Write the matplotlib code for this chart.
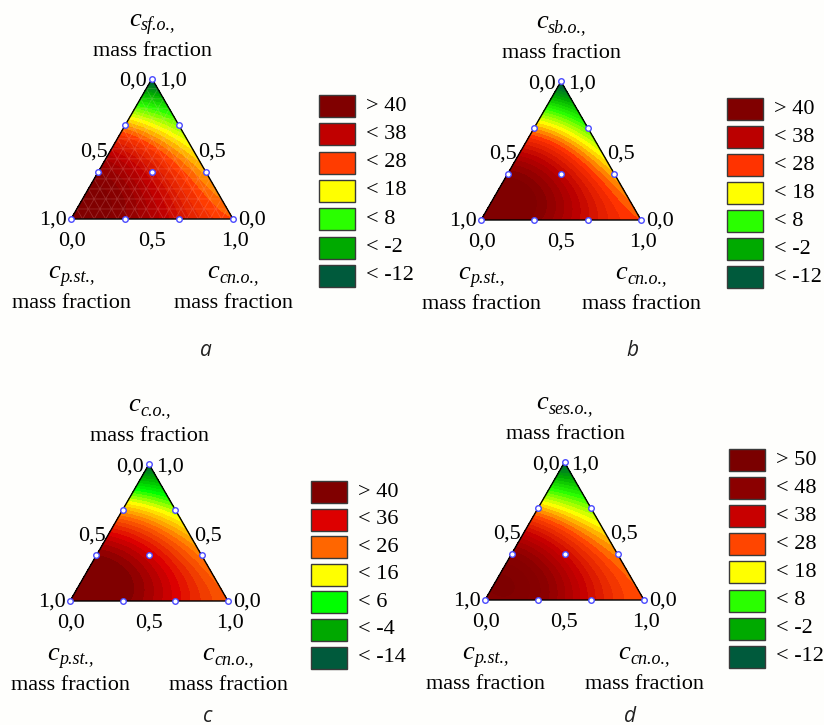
import numpy as np
import matplotlib
matplotlib.use("Agg")
import matplotlib.pyplot as plt
import matplotlib.tri as mtri
from matplotlib.colors import LinearSegmentedColormap, Normalize
from matplotlib.patches import Rectangle

plt.rcParams['font.family'] = ['Liberation Serif', 'DejaVu Serif']

# ---------------- data ----------------
# simplex-lattice design points (p.st., cn.o., third component)
design_p = [1, 0, 0, 2/3, 1/3, 2/3, 1/3, 0, 0, 1/3]
design_c = [0, 1, 0, 1/3, 2/3, 0, 0, 2/3, 1/3, 1/3]
design_s = [0, 0, 1, 0, 0, 1/3, 2/3, 1/3, 2/3, 1/3]

values_a = [42, 22, -20, 40, 30, 40, 18, 17, 7, 30]
values_b = [43, 22, -20, 41, 30, 41, 17, 16, 4, 32]
values_c = [42, 22, -20, 41, 31, 40, 16, 19, 7, 32]
values_d = [46, 22, -18, 44, 31, 43, 17, 19, 7, 32]

top_names = ['sf.o.,', 'sb.o.,', 'c.o.,', 'ses.o.,']
left_name = 'p.st.,'
right_name = 'cn.o.,'
panel_letters = ['a', 'b', 'c', 'd']

legend_a = ['> 40', '< 38', '< 28', '< 18', '< 8', '< -2', '< -12']
legend_b = ['> 40', '< 38', '< 28', '< 18', '< 8', '< -2', '< -12']
legend_c = ['> 40', '< 36', '< 26', '< 16', '< 6', '< -4', '< -14']
legend_d = ['> 50', '< 48', '< 38', '< 28', '< 18', '< 8', '< -2', '< -12']

colors_a = ['#800000', '#c00000', '#ff3c00', '#ffff00', '#2aff00', '#00aa00', '#005a3c']
colors_b = ['#800000', '#bb0000', '#ff3300', '#ffff00', '#2aff00', '#00aa00', '#005a3c']
colors_c = ['#800000', '#dd0000', '#ff6600', '#ffff00', '#00ff00', '#00a800', '#005a3c']
colors_d = ['#7a0000', '#8b0000', '#c80000', '#ff4500', '#ffff00', '#2aff00', '#00aa00', '#005a3c']

# colour anchor values (band centres) for the continuous fill
anchors_a = [42, 33, 23, 13, 3, -7, -17]
anchors_b = [42, 33, 23, 13, 3, -7, -17]
anchors_c = [41, 31, 21, 11, 1, -9, -19]
anchors_d = [51, 43, 33, 23, 13, 3, -7, -17]

# ---------------- layout (pixels) ----------------
W, H = 824, 725
tri_L = [(71, 219), (481, 220), (70, 601), (485, 600)]
tri_R = [233, 641, 228, 644]
leg_x = [319, 727, 311, 729]
leg_top = [95, 98, 481, 449]
leg_pitch = [28.3, 28.0, 27.6, 28.1]
letter_pos = [(206, 350), (632, 350), (208, 716), (630, 716)]

FS = 16
fig = plt.figure(figsize=(W / 100, H / 100), dpi=100)
fig.patch.set_facecolor('#fefefc')
over = fig.add_axes([0, 0, 1, 1])
over.set_xlim(0, W)
over.set_ylim(H, 0)
over.axis('off')
over.patch.set_visible(False)
renderer = fig.canvas.get_renderer()


def sub_label(xc, ybase, sub):
    t1 = over.text(0, 0, 'c', fontsize=19, style='italic', va='baseline')
    t2 = over.text(0, 0, sub, fontsize=13, style='italic', va='baseline')
    w1 = t1.get_window_extent(renderer).width
    w2 = t2.get_window_extent(renderer).width
    x0 = xc - (w1 + w2) / 2
    t1.set_position((x0, ybase))
    t2.set_position((x0 + w1 + 0.5, ybase + 4))


SQ = np.sqrt(3) / 2


def cubic_terms(x1, x2, x3):
    return np.stack([x1, x2, x3, x1 * x2, x1 * x3, x2 * x3,
                     x1 * x2 * (x1 - x2), x1 * x3 * (x1 - x3), x2 * x3 * (x2 - x3),
                     x1 * x2 * x3], axis=-1)


n = 90
pp, cc = [], []
for i in range(n + 1):
    for j in range(n + 1 - i):
        pp.append(i / n)
        cc.append(j / n)
pp = np.array(pp)
cc = np.array(cc)
ss = np.clip(1 - pp - cc, 0, 1)
tri = mtri.Triangulation(cc + ss / 2, ss * SQ)

dp = np.array(design_p)
dc = np.array(design_c)
ds = np.array(design_s)
A = cubic_terms(dp, dc, ds)

all_values = [values_a, values_b, values_c, values_d]
all_leg = [legend_a, legend_b, legend_c, legend_d]
all_cols = [colors_a, colors_b, colors_c, colors_d]
all_anch = [anchors_a, anchors_b, anchors_c, anchors_d]

for k in range(4):
    Lx, Ly = tri_L[k]
    Rx = tri_R[k]
    wpx = Rx - Lx
    hpx = wpx * SQ
    ax = fig.add_axes([Lx / W, (H - Ly) / H, wpx / W, hpx / H])
    ax.set_xlim(0, 1)
    ax.set_ylim(0, SQ)
    ax.axis('off')

    coef = np.linalg.solve(A, np.array(all_values[k], dtype=float))
    z = cubic_terms(pp, cc, ss) @ coef

    anch = np.array(all_anch[k][::-1], dtype=float)
    cols = all_cols[k][::-1]
    vmin, vmax = anch[0], anch[-1]
    cmap = LinearSegmentedColormap.from_list(
        'm%d' % k, list(zip((anch - vmin) / (vmax - vmin), cols)))
    cmap.set_under(cols[0])
    cmap.set_over(cols[-1])
    norm = Normalize(vmin, vmax)
    levels = np.arange(-40, 70, 2.0)
    ax.tricontourf(tri, z, levels=levels, cmap=cmap, norm=norm, extend='both')

    if k == 0:
        m = 14
        mp, mc = [], []
        for i in range(m + 1):
            for j in range(m + 1 - i):
                mp.append(i / m)
                mc.append(j / m)
        mp = np.array(mp)
        mc = np.array(mc)
        ms_ = 1 - mp - mc
        mt = mtri.Triangulation(mc + ms_ / 2, ms_ * SQ)
        ax.triplot(mt, color=(1, 0.8, 0.8, 0.2), lw=0.6)

    ax.plot([0, 1, 0.5, 0], [0, 0, SQ, 0], color='black', lw=1.0,
            clip_on=False, solid_joinstyle='miter')
    ax.plot(dc + ds / 2, ds * SQ, 'o', ms=4, mfc='white', mec='#4a4aff',
            mew=1.0, clip_on=False)

    # tick labels in pixels
    Ax, Ay = (Lx + Rx) / 2, Ly - hpx
    t = dict(fontsize=FS, color='black')
    over.text(Ax - 5, Ay + 7, '0,0', ha='right', va='baseline', **t)
    over.text(Ax + 7, Ay + 7, '1,0', ha='left', va='baseline', **t)
    over.text(Lx - 4, Ly + 6, '1,0', ha='right', va='baseline', **t)
    over.text(Rx + 5, Ly + 6, '0,0', ha='left', va='baseline', **t)
    over.text(Lx + 1, Ly + 27, '0,0', ha='center', va='baseline', **t)
    over.text((Lx + Rx) / 2, Ly + 27, '0,5', ha='center', va='baseline', **t)
    over.text(Rx + 2, Ly + 27, '1,0', ha='center', va='baseline', **t)
    over.text((Lx + Ax) / 2 - 4, (Ly + Ay) / 2 + 7.5, '0,5', ha='right', va='baseline', **t)
    over.text((Rx + Ax) / 2 + 6, (Ly + Ay) / 2 + 7.5, '0,5', ha='left', va='baseline', **t)

    # axis titles
    sub_label(Ax, Ay - 53, top_names[k])
    over.text(Ax + 1, Ay - 23, 'mass fraction', ha='center', va='baseline', **t)
    sub_label(Lx, Ly + 59, left_name)
    over.text(Lx + 1, Ly + 89, 'mass fraction', ha='center', va='baseline', **t)
    sub_label(Rx, Ly + 59, right_name)
    over.text(Rx + 1, Ly + 89, 'mass fraction', ha='center', va='baseline', **t)

    # legend
    for i, (lab, col) in enumerate(zip(all_leg[k], all_cols[k])):
        y0 = leg_top[k] + i * leg_pitch[k]
        over.add_patch(Rectangle((leg_x[k], y0), 36, 22, facecolor=col,
                                 edgecolor='#3a3a3a', lw=1.0))
        over.text(leg_x[k] + 47, y0 + 11, lab, ha='left', va='center', **t)

    lx, ly = letter_pos[k]
    over.text(lx, ly, panel_letters[k], ha='center', va='center', fontsize=15,
              family=['Open Sans', 'DejaVu Sans'], style='italic', color='#222222')

fig.savefig('out.png', dpi=100, facecolor=fig.get_facecolor())
